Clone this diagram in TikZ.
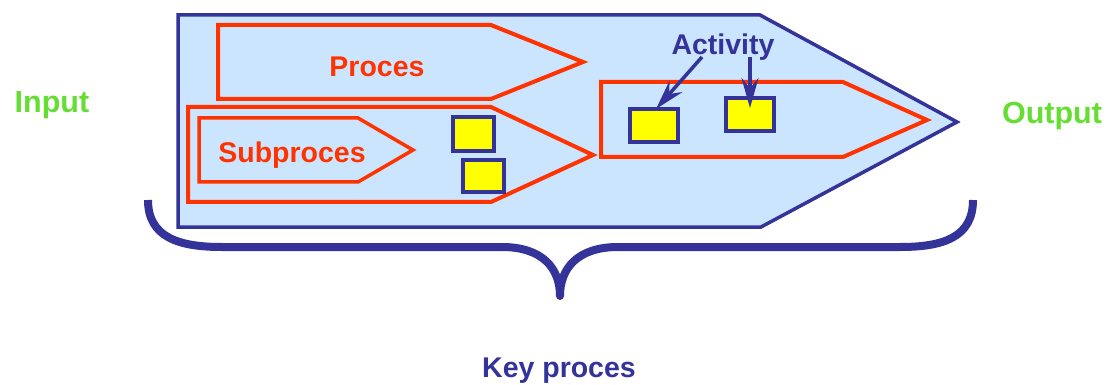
\documentclass[tikz,border=0pt]{standalone}
\usepackage{fontspec}
\setmainfont{Liberation Sans}
\usetikzlibrary{arrows.meta}
\definecolor{kblue}{HTML}{333399}
\definecolor{kfill}{HTML}{CCE5FF}
\definecolor{kred}{HTML}{FF3300}
\definecolor{kgreen}{HTML}{66DD33}
\definecolor{kyellow}{HTML}{FFFF00}
\tikzset{
  lbl/.style={font=\fontsize{28.5}{34}\selectfont\bfseries, inner sep=0pt, anchor=base},
  biglbl/.style={font=\fontsize{30.5}{36}\selectfont\bfseries, inner sep=0pt, anchor=base},
  procshape/.style={draw=kred, line width=4pt, line join=miter},
  actbox/.style={draw=kblue, fill=kyellow, line width=3.5pt, inner sep=0pt},
  actarrow/.style={draw=kblue, line width=3.5pt, arrows={-Stealth[length=30pt, width=17pt, inset=10pt]}},
}
\begin{document}
\begin{tikzpicture}[x=1pt,y=-1pt]
\useasboundingbox (0,0) rectangle (1112,385);
% key process outer shape
\draw[draw=kblue, fill=kfill, line width=3.5pt, line join=miter]
  (178,15) -- (760,15) -- (957,122) -- (761,227) -- (178,227) -- cycle;
% Proces
\draw[procshape] (218,25) -- (491,25) -- (583,62) -- (491,99) -- (218,99) -- cycle;
\node[lbl, text=kred] (proces) at (377,77) {Proces};
% Subproces container
\draw[procshape] (188,107) -- (491,107) -- (593,155) -- (491,202) -- (188,202) -- cycle;
\draw[procshape, line width=3.5pt] (199,118) -- (358,118) -- (413,150) -- (358,182) -- (199,182) -- cycle;
\node[lbl, text=kred] (subproces) at (292,163) {Subproces};
% boxes in subproces
\node[actbox, minimum width=41pt, minimum height=34pt] (b1) at (473.5,134) {};
\node[actbox, minimum width=41pt, minimum height=32pt] (b2) at (483.5,176) {};
% activity process
\draw[procshape] (601,82) -- (843,82) -- (927,120) -- (843,157) -- (601,157) -- cycle;
\node[actbox, minimum width=48pt, minimum height=33pt] (b3) at (654,125.5) {};
\node[actbox, minimum width=48pt, minimum height=33pt] (b4) at (750,114.5) {};
\node[lbl, text=kblue] (activity) at (723,55) {Activity};
\coordinate (a1) at (702,57);
\coordinate (a2) at (750,57);
\coordinate (t1) at (656,109);
\coordinate (t2) at (750,108);
\draw[actarrow] (a1) -- (t1);
\draw[actarrow] (a2) -- (t2);
% brace
\draw[kblue, line width=8pt, line cap=butt, line join=round]
  (148,200) .. controls (148,238) and (180,247) .. (222,247)
  -- (502,247) .. controls (542,247) and (560,268) .. (560,296)
  .. controls (560,268) and (578,247) .. (618,247)
  -- (900,247) .. controls (942,247) and (973,238) .. (973,200);
% labels
\node[biglbl, text=kgreen] (input) at (52,113) {Input};
\node[biglbl, text=kgreen] (output) at (1052,124) {Output};
\node[lbl, text=kblue] (key) at (559,377) {Key proces};
\end{tikzpicture}
\end{document}
